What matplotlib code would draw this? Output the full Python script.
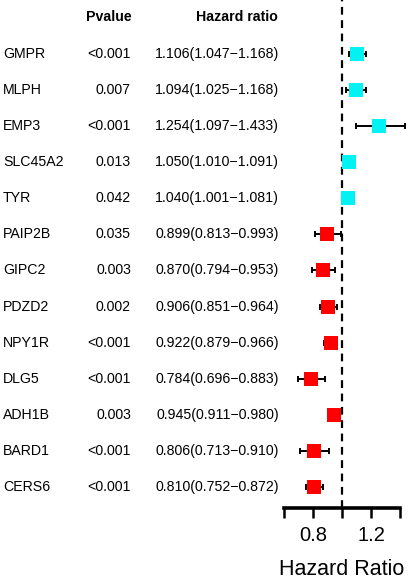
import matplotlib
matplotlib.use('Agg')
import matplotlib.pyplot as plt
import matplotlib.transforms as mtransforms

plt.rcParams['font.family'] = ['Liberation Sans', 'DejaVu Sans']

# Data
genes = ['GMPR', 'MLPH', 'EMP3', 'SLC45A2', 'TYR', 'PAIP2B', 'GIPC2',
         'PDZD2', 'NPY1R', 'DLG5', 'ADH1B', 'BARD1', 'CERS6']
pvalues = ['<0.001', '0.007', '<0.001', '0.013', '0.042', '0.035', '0.003',
           '0.002', '<0.001', '<0.001', '0.003', '<0.001', '<0.001']
hr = [1.106, 1.094, 1.254, 1.050, 1.040, 0.899, 0.870,
      0.906, 0.922, 0.784, 0.945, 0.806, 0.810]
hr_low = [1.047, 1.025, 1.097, 1.010, 1.001, 0.813, 0.794,
          0.851, 0.879, 0.696, 0.911, 0.713, 0.752]
hr_high = [1.168, 1.168, 1.433, 1.091, 1.081, 0.993, 0.953,
           0.964, 0.966, 0.883, 0.980, 0.910, 0.872]
xticks = [0.6, 0.8, 1.0, 1.2, 1.4]
xticklabels = ['', '0.8', '', '1.2', '']

W, H = 408, 581
fig = plt.figure(figsize=(W / 100, H / 100), dpi=100)
ax = fig.add_axes([284 / W, 1 - 508 / H, 116 / W, 508 / H])

n = len(genes)
rows = list(range(n))
# row 0 sits at pixel 54, spacing ~36 px
ax.set_ylim((508 - 54) / 36.08, -54 / 36.08)
ax.set_xlim(0.6, 1.4)

ax.axvline(1.0, color='black', linestyle=(0, (3.5, 2.5)), linewidth=1.6, zorder=1)

for i in rows:
    col = '#00F2F2' if hr[i] > 1 else '#FF0000'
    ax.errorbar(hr[i], i, xerr=[[hr[i] - hr_low[i]], [hr_high[i] - hr[i]]],
                fmt='none', ecolor='black', elinewidth=1.4, capsize=2.5,
                capthick=1.4, clip_on=False, zorder=2)
    ax.plot(hr[i], i, marker='s', markersize=9.5, color=col,
            markeredgewidth=0, linestyle='none', clip_on=False, zorder=3)

for s in ['left', 'right', 'top']:
    ax.spines[s].set_visible(False)
ax.spines['bottom'].set_linewidth(2.6)
ax.spines['bottom'].set_bounds(0.6, 1.4)
ax.set_yticks([])
ax.set_xticks(xticks)
ax.set_xticklabels(xticklabels, fontsize=14.5)
ax.tick_params(axis='x', direction='out', length=7, width=1.8, pad=6)
ax.set_xlabel('Hazard Ratio', fontsize=15.5, labelpad=10)

# Table on the left
trans = mtransforms.blended_transform_factory(fig.transFigure, ax.transData)
header_y = (17 - 54) / 36.08
ax.text(132 / W, header_y, 'Pvalue', transform=trans, ha='right', va='center',
        fontsize=10.2, fontweight='bold', clip_on=False)
ax.text(278 / W, header_y, 'Hazard ratio', transform=trans, ha='right', va='center',
        fontsize=10.2, fontweight='bold', clip_on=False)
for i in rows:
    ax.text(3 / W, i, genes[i], transform=trans, ha='left', va='center',
            fontsize=10.2, clip_on=False)
    ax.text(131 / W, i, pvalues[i], transform=trans, ha='right', va='center',
            fontsize=10.2, clip_on=False)
    txt = f'{hr[i]:.3f}({hr_low[i]:.3f}\u2212{hr_high[i]:.3f})'
    ax.text(279 / W, i, txt, transform=trans, ha='right', va='center',
            fontsize=10.2, clip_on=False)

fig.savefig('out.png', dpi=100)
